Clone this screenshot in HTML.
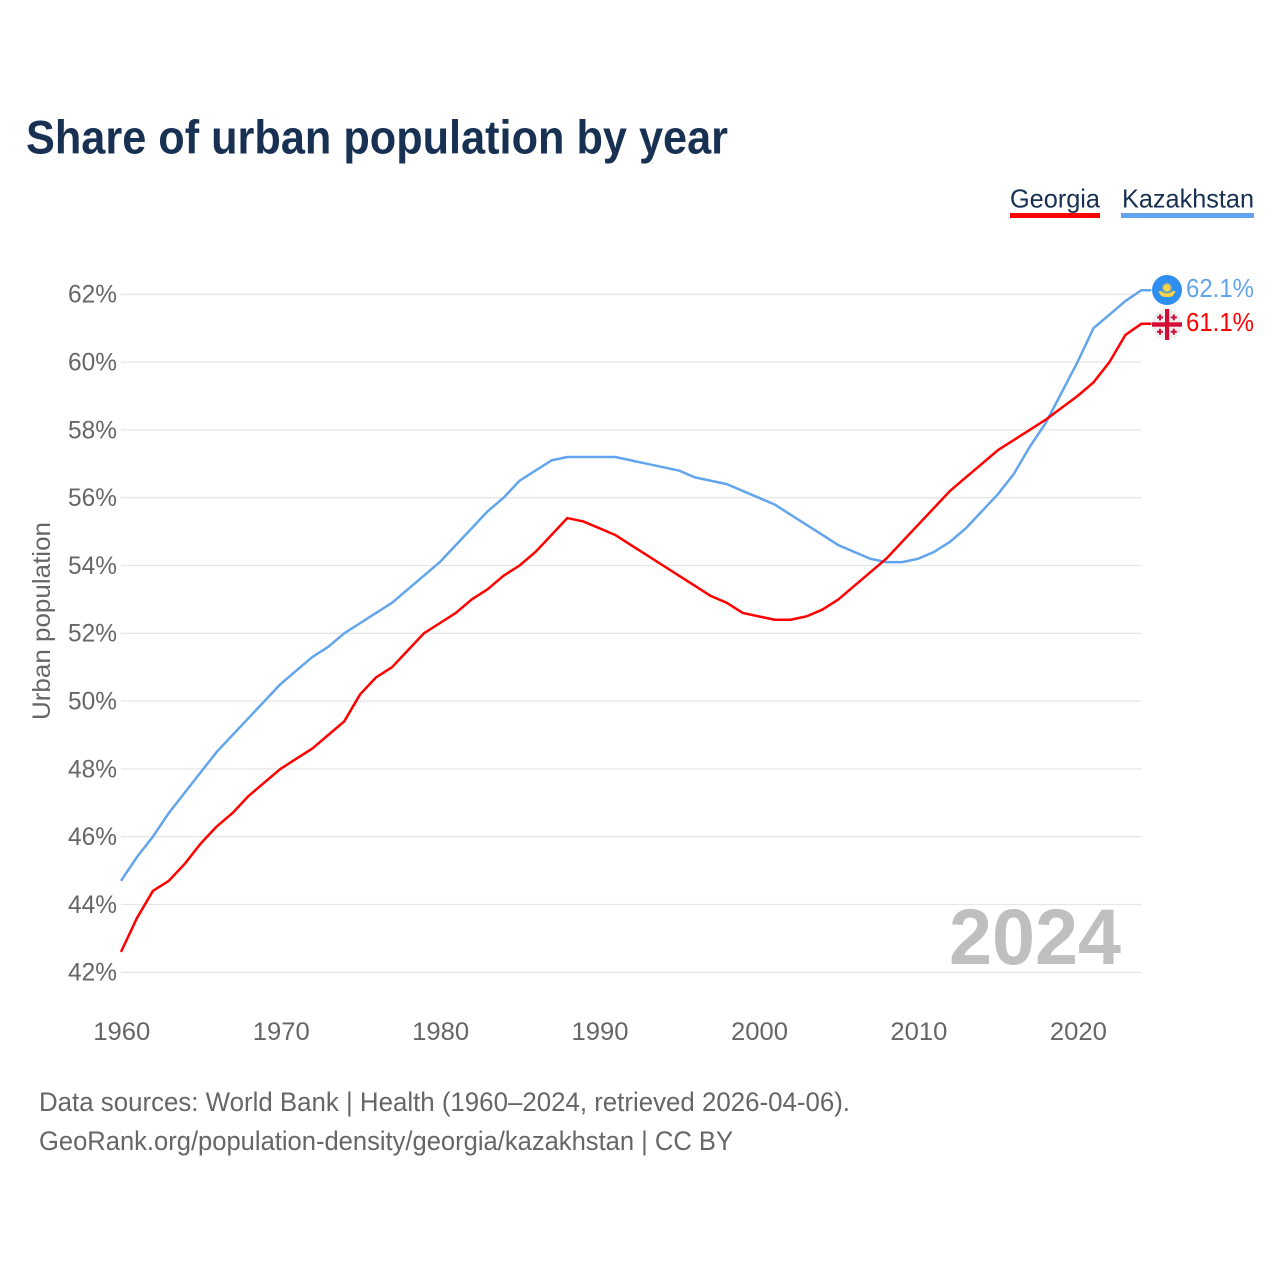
<!DOCTYPE html>
<html lang="en">
<head>
<meta charset="utf-8">
<title>Share of urban population by year</title>
<style>
html,body{margin:0;padding:0;background:#fff;width:1280px;height:1280px;overflow:hidden}
svg{display:block}
text{font-family:"Liberation Sans",sans-serif}
</style>
</head>
<body>
<svg id="chart" xmlns="http://www.w3.org/2000/svg" width="1280" height="1280" viewBox="0 0 1280 1280">
<text x="26" y="153.5" font-size="47" font-weight="700" fill="#183153" textLength="702" lengthAdjust="spacingAndGlyphs">Share of urban population by year</text>
<g id="legend">
<g>
<text x="1010" y="207.5" font-size="26" fill="#183153" textLength="90" lengthAdjust="spacingAndGlyphs">Georgia</text>
<rect x="1010" y="213" width="90" height="5" fill="#ff0000"/>
</g>
<g>
<text x="1122" y="207.5" font-size="26" fill="#183153" textLength="132" lengthAdjust="spacingAndGlyphs">Kazakhstan</text>
<rect x="1121" y="213" width="133" height="5" fill="#63a5ec"/>
</g>
</g>
<g id="grid"></g>
<g id="yticks"></g>
<g id="xticks"></g>
<text transform="translate(50,621) rotate(-90)" text-anchor="middle" font-size="25" fill="#666666" textLength="198" lengthAdjust="spacingAndGlyphs">Urban population</text>
<text x="1121" y="964" text-anchor="end" font-size="79" font-weight="700" fill="#bfbfbf" textLength="172" lengthAdjust="spacingAndGlyphs">2024</text>
<g id="lines"></g>
<g>
<circle cx="1167" cy="290" r="15" fill="#2f8ff0"/>
<circle cx="1167" cy="287.8" r="5" fill="#f7d348" fill-opacity="0.45"/>
<circle cx="1167" cy="287.8" r="3.6" fill="#f7d348"/>
<path d="M1158.3 291.5 L1161 290.8 Q1167 296 1173 290.8 L1175.7 291.5 L1172.5 296.3 Q1167 298 1161.5 296.3 Z" fill="#f7d348"/>
</g>
<g>
<circle cx="1167" cy="324.5" r="15" fill="#eeeeee"/>
<rect x="1152" y="322.3" width="30" height="4.4" fill="#d40b37"/>
<rect x="1165" y="309" width="4.2" height="31" fill="#d40b37"/>
<path d="M1157 316.4h6v2h-6zM1159 314.4h2v6h-2zM1170.8 316.4h6v2h-6zM1172.8 314.4h2v6h-2zM1157 330.7h6v2h-6zM1159 328.7h2v6h-2zM1170.8 330.7h6v2h-6zM1172.8 328.7h2v6h-2z" fill="#d40b37"/>
</g>
<text x="1186" y="297" font-size="26" fill="#63a5ec" textLength="68" lengthAdjust="spacingAndGlyphs">62.1%</text>
<text x="1186" y="331" font-size="26" fill="#ff0000" textLength="68" lengthAdjust="spacingAndGlyphs">61.1%</text>
<text x="39" y="1111" font-size="27" fill="#666666" textLength="811" lengthAdjust="spacingAndGlyphs">Data sources: World Bank | Health (1960–2024, retrieved 2026-04-06).</text>
<text x="39" y="1150" font-size="27" fill="#666666" textLength="694" lengthAdjust="spacingAndGlyphs">GeoRank.org/population-density/georgia/kazakhstan | CC BY</text>
</svg>
<script>
const startYear = 1960;
const georgia = [42.6,43.6,44.4,44.7,45.2,45.8,46.3,46.7,47.2,47.6,48.0,48.3,48.6,49.0,49.4,50.2,50.7,51.0,51.5,52.0,52.3,52.6,53.0,53.3,53.7,54.0,54.4,54.9,55.4,55.3,55.1,54.9,54.6,54.3,54.0,53.7,53.4,53.1,52.9,52.6,52.5,52.4,52.4,52.5,52.7,53.0,53.4,53.8,54.2,54.7,55.2,55.7,56.2,56.6,57.0,57.4,57.7,58.0,58.3,58.65,59.0,59.4,60.0,60.8,61.13];
const kazakhstan = [44.7,45.4,46.0,46.7,47.3,47.9,48.5,49.0,49.5,50.0,50.5,50.9,51.3,51.6,52.0,52.3,52.6,52.9,53.3,53.7,54.1,54.6,55.1,55.6,56.0,56.5,56.8,57.1,57.2,57.2,57.2,57.2,57.1,57.0,56.9,56.8,56.6,56.5,56.4,56.2,56.0,55.8,55.5,55.2,54.9,54.6,54.4,54.2,54.1,54.1,54.2,54.4,54.7,55.1,55.6,56.1,56.7,57.5,58.2,59.1,60.0,61.0,61.4,61.8,62.12];
const yTicks = [42,44,46,48,50,52,54,56,58,60,62];
const xTicks = [1960,1970,1980,1990,2000,2010,2020];

const NS = 'http://www.w3.org/2000/svg';
function xScale(year){ return 121 + (year - 1960) * (1141.3 - 121) / 64; }
function yScale(v){ return 972.3 - (v - 42) * (972.3 - 294.3) / 20; }
function make(tag, attrs, parent){
  const el = document.createElementNS(NS, tag);
  for (const k in attrs) el.setAttribute(k, attrs[k]);
  parent.appendChild(el);
  return el;
}
const grid = document.getElementById('grid');
const yG = document.getElementById('yticks');
const xG = document.getElementById('xticks');
const linesG = document.getElementById('lines');
yTicks.forEach(function(t){
  const line = make('line', {x1:121, x2:1141.7, y1:yScale(t), y2:yScale(t), stroke:'#e6e6e6', 'stroke-width':1.3}, grid);
  
  
  const label = make('text', {x:117, y:yScale(t)+8.4, 'text-anchor':'end', 'font-size':25, fill:'#666666', textLength:49, lengthAdjust:'spacingAndGlyphs'}, yG);
  
  
  label.textContent = t + '%';
});
xTicks.forEach(function(t){
  const label = make('text', {x:xScale(t)+0.8, y:1040, 'text-anchor':'middle', 'font-size':25, fill:'#666666', textLength:57, lengthAdjust:'spacingAndGlyphs'}, xG);
  
  
  label.textContent = t;
});
function pathFor(values){
  const lastX = xScale(startYear + values.length - 1);
  const lastY = yScale(values[values.length - 1]);
  return values.map(function(v,i){
    return (i ? 'L' : 'M') + xScale(startYear + i).toFixed(2) + ' ' + yScale(v).toFixed(2);
  }).join(' ') + ' L' + (lastX + 10).toFixed(2) + ' ' + lastY.toFixed(2);
}
const lineK = make('path', {d:pathFor(kazakhstan), fill:'none', stroke:'#63a5ec', 'stroke-width':2.5, 'stroke-linejoin':'round'}, linesG);


const lineG = make('path', {d:pathFor(georgia), fill:'none', stroke:'#ff0000', 'stroke-width':2.5, 'stroke-linejoin':'round'}, linesG);


</script>
</body>
</html>
